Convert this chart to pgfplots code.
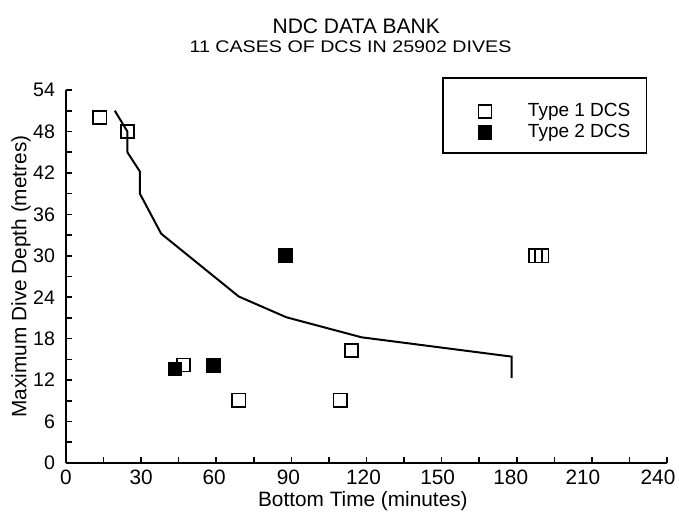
\documentclass[border=0pt]{standalone}
\usepackage{pgfplots}
\pgfplotsset{compat=1.18}
\usepackage{fontspec}
\setmainfont{Liberation Sans}
\newfontfamily\widesans[FakeStretch=1.17]{Liberation Sans}
\begin{document}
\begin{tikzpicture}
\useasboundingbox (-33pt,-24pt) rectangle (306.5pt,231.5pt);
\begin{axis}[
width=300.5pt,
height=186.5pt,
scale only axis,
at={(0,0)}, anchor=origin,
xmin=0, xmax=240,
ymin=0, ymax=54,
axis x line*=bottom,
axis y line*=left,
axis line style={line width=1.3pt},
xtick={0,30,...,240},
xticklabels={0,30,\hspace{-2pt}60,\hspace{-3pt}90,\hspace{-3pt}120,\hspace{-4pt}150,\hspace{-6pt}180,\hspace{-9pt}210,\hspace{-9pt}240},
ytick={0,6,...,54},
minor x tick num=1,
minor y tick num=1,
tick align=inside,
major tick length=2.8pt,
minor tick length=2.8pt,
tick style={line width=0.8pt, black},
/pgf/number format/assume math mode=true,
xticklabel style={font=\fontsize{10.4}{12}\selectfont},
yticklabel style={font=\fontsize{9.8}{12}\selectfont, xshift=-2pt},
xlabel={Bottom Time (minutes)},
ylabel={Maximum Dive Depth (metres)},
label style={font=\fontsize{10.4}{12}\selectfont},
xlabel style={at={(axis description cs:0.494,0)}, anchor=center, yshift=-19pt},
ylabel style={at={(axis description cs:-0.0749,0.5)}, anchor=center},
clip=false,
legend style={at={(0.967,1.035)}, anchor=north east, draw=black, line width=0.8pt,
  font=\fontsize{9.5}{10.5}\selectfont, inner xsep=6pt, inner ysep=4.5pt, row sep=-1.75pt},
legend cell align=left,
legend image code/.code={
  \path[draw=none, fill=none] (0pt,0pt) rectangle (25pt,0pt);
  \draw[#1, draw=none] plot coordinates {(15pt,0pt)};
},
]
\node[anchor=base, font=\fontsize{10.5}{12}\selectfont] at (axis description cs:0.483,1.1528) {NDC DATA BANK};
\node[anchor=base, font=\widesans\fontsize{8.4}{10}\selectfont] at (axis description cs:0.4734,1.1019) {11 CASES OF DCS IN 25902 DIVES};
\addlegendimage{empty legend}
\addlegendentry{\rule{0pt}{2.5pt}}
\addplot[black, line width=1pt, forget plot] coordinates {
(19.5,51) (24.5,48) (24.5,45) (29.5,42.2) (29.5,39) (38,33.2) (69,24.1)
(88,21.1) (118,18.2) (178,15.4) (178,12.3)
};
\addplot[only marks, mark=square, mark size=3.3pt, mark options={black, line width=0.8pt, fill=white}] coordinates {
(13.5,50) (24.5,48) (47,14.2) (69,9.1) (109.5,9.1) (114,16.3) (187.5,30) (190,30)
};
\addlegendentry{\hspace{9.5pt}Type 1 DCS}
\addplot[only marks, mark=square*, mark size=3.3pt, mark options={black, line width=0.8pt, fill=black}] coordinates {
(43.5,13.6) (59,14.1) (87.5,30)
};
\addlegendentry{\hspace{9.5pt}Type 2 DCS}
\end{axis}
\end{tikzpicture}
\end{document}
